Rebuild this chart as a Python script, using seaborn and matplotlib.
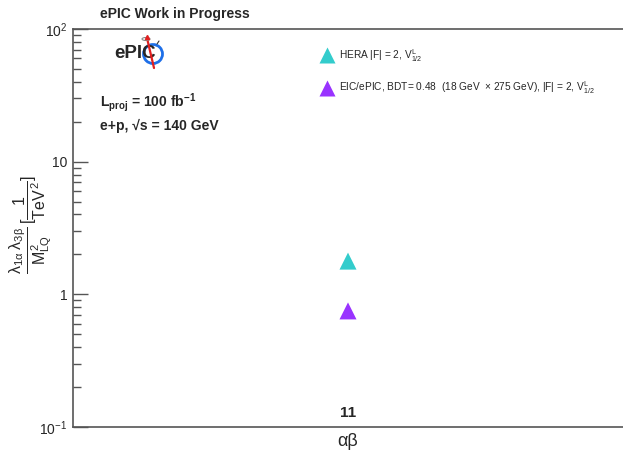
import matplotlib
matplotlib.use("Agg")
import matplotlib.pyplot as plt
import matplotlib.patches as mpatches
import matplotlib.lines as mlines
import numpy as np
import pandas as pd
import seaborn as sns

# Coupling limits per flavour index pair
categories = ["11"]
hera_limits = [1.78]
eic_limits = [0.75]
series_labels = [
    r"HERA |F| = 2, V$^{\mathregular{L}}_{\mathregular{1/2}}$",
    r"EIC/ePIC, BDT= 0.48  (18 GeV  $\times$ 275 GeV), |F| = 2, V$^{\mathregular{L}}_{\mathregular{1/2}}$",
]
series_colors = ["#33CCCC", "#9933FF"]

sns.set_style("white")
plt.rcParams["font.family"] = ["Liberation Sans", "DejaVu Sans"]
plt.rcParams["mathtext.fontset"] = "custom"
plt.rcParams["mathtext.rm"] = "Liberation Sans"
plt.rcParams["mathtext.it"] = "Liberation Sans"
plt.rcParams["mathtext.bf"] = "Liberation Sans:bold"

df = pd.DataFrame({
    "pair": categories * 2,
    "pos": [0] * len(categories) * 2,
    "limit": hera_limits + eic_limits,
    "series": [series_labels[0]] * len(categories) + [series_labels[1]] * len(categories),
})

W, H = 623, 457
fig = plt.figure(figsize=(W / 100, H / 100), dpi=100)
ax = fig.add_axes([73 / W, 1 - 427 / H, 1 - 73 / W, (427 - 29) / H])

sns.scatterplot(data=df, x="pos", y="limit", hue="series", palette=series_colors,
                marker="^", s=150, edgecolor="none", ax=ax, legend=False, zorder=3)

ax.set_yscale("log")
ax.set_ylim(0.1, 100)
ax.set_xlim(-1, 1)

# Frame: left, bottom, top only
for side in ["left", "bottom", "top"]:
    ax.spines[side].set_visible(True)
    ax.spines[side].set_color("#555555")
    ax.spines[side].set_linewidth(1.2)
ax.spines["right"].set_visible(False)

ax.set_yticks([0.1, 1, 10, 100])
ax.set_yticklabels([r"10$^{-1}$", "1", "10", r"10$^{2}$"], fontsize=10)
ax.tick_params(axis="y", which="major", direction="in", length=11, width=1, color="#555555",
               pad=4, left=True)
ax.tick_params(axis="y", which="minor", direction="in", length=6, width=1, color="#555555", left=True)
ax.yaxis.set_minor_locator(matplotlib.ticker.LogLocator(base=10, subs=np.arange(2, 10)))
ax.yaxis.set_minor_formatter(matplotlib.ticker.NullFormatter())

ax.set_xticks([0])
ax.set_xticklabels(categories, fontsize=11, fontweight="bold")
ax.tick_params(axis="x", length=0, pad=-15)

ax.set_xlabel("αβ", fontsize=13, labelpad=4)
ax.set_ylabel("")

# Y-axis title as a stacked fraction, rotated
fig.text(31 / W, 1 - 224 / H,
         r"$\dfrac{\lambda_{1\alpha}\;\lambda_{3\beta}}{M^{2}_{LQ}}\,[\dfrac{1}{TeV^{2}}]$",
         fontsize=11.5, rotation=90, ha="center", va="center")

# Legend
handles = [mlines.Line2D([], [], linestyle="none", marker="^", markersize=12,
                         markerfacecolor=c, markeredgecolor="none") for c in series_colors]
fig.legend(handles, series_labels, loc="upper left", bbox_to_anchor=(311 / W, 1 - 38 / H),
           frameon=False, fontsize=7.3, handletextpad=0.5, labelspacing=1.55, handlelength=1.4)

# Annotations
fig.text(100 / W, 1 - 14 / H, "ePIC Work in Progress", fontsize=10, fontweight="bold",
         va="center", ha="left")
fig.text(100 / W, 1 - 103 / H, r"L$_{\mathbf{proj}}$ = 100 fb$^{\mathbf{-1}}$", fontsize=10,
         fontweight="bold", va="center", ha="left")
fig.text(100 / W, 1 - 126 / H, "e+p, √s = 140 GeV", fontsize=10,
         fontweight="bold", va="center", ha="left")

# ePIC logo
fig.text(114 / W, 1 - 54 / H, "ePIC", fontsize=13.5, fontweight="heavy", va="center",
         ha="left", zorder=5)
circ = mpatches.Ellipse((153 / W, 1 - 54 / H), 19 / W, 19 / H, transform=fig.transFigure,
                        fill=False, edgecolor="#1E6FE8", linewidth=2, zorder=4)
fig.add_artist(circ)
fig.add_artist(mlines.Line2D([147 / W, 154 / W], [1 - 38 / H, 1 - 68 / H],
                             transform=fig.transFigure, color="#E02020", linewidth=1.6, zorder=6))
fig.add_artist(mpatches.Ellipse((146 / W, 1 - 39 / H), 8 / W, 3 / H, transform=fig.transFigure,
                                fill=False, edgecolor="#888888", linewidth=0.8, zorder=6))
fig.add_artist(mlines.Line2D([146.8 / W], [1 - 37 / H], transform=fig.transFigure,
                             marker="^", markersize=3, color="#E02020", linestyle="none", zorder=7))
fig.add_artist(mlines.Line2D([157 / W, 159 / W], [1 - 44 / H, 1 - 41 / H],
                             transform=fig.transFigure, color="#333333", linewidth=0.8, zorder=6))

fig.savefig("out.png", dpi=100)
